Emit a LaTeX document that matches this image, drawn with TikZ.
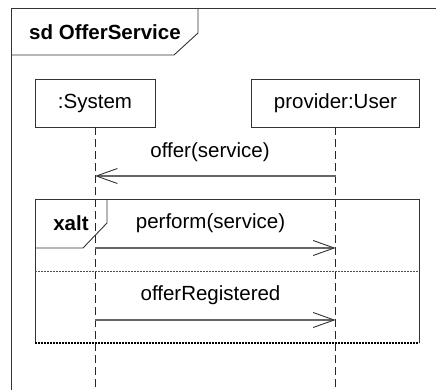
\documentclass[tikz,border=0pt]{standalone}
\usepackage{fontspec}
\setmainfont{Liberation Sans}
\usetikzlibrary{arrows.meta}
\tikzset{
  line/.style={draw=black!80, line width=0.9pt},
  participant/.style={line, fill=white, minimum height=48pt, inner sep=0pt,
    font=\fontsize{20.5}{24}\selectfont},
  lifeline/.style={draw=black!85, line width=0.9pt, dash pattern=on 8pt off 4pt},
  msg/.style={draw=black!60, line width=1.3pt,
    -{Straight Barb[length=21pt, width=15pt, line width=0.9pt, black!80]}},
  msglabel/.style={font=\fontsize{20.5}{24}\selectfont, inner sep=0pt},
  framelabel/.style={font=\fontsize{20.5}{24}\selectfont\bfseries, inner sep=0pt},
  separator/.style={draw=black!70, line width=0.8pt, dash pattern=on 2pt off 1pt},
  closing/.style={draw=black, line width=1.6pt, dash pattern=on 2pt off 1pt},
}
\begin{document}
\begin{tikzpicture}[x=1pt, y=-1pt]
  \useasboundingbox (0,0) rectangle (436,390);

  % sequence diagram frame and its name tab
  \draw[line] (11.5,395) -- (11.5,8) -- (440,8);
  \draw[line] (11.5,55) -- (174,55) -- (198,33) -- (198,8);
  \node[framelabel] (sdname) at (105,32) {sd OfferService};

  % participants and lifelines
  \node[participant, minimum width=120pt] (sys) at (95,103) {:System};
  \node[participant, minimum width=168pt] (prov) at (335.5,103) {provider:User};
  \coordinate (sysend) at (95,392);
  \coordinate (provend) at (335.5,392);
  \draw[lifeline] (sys.south) -- (sysend);
  \draw[lifeline] (prov.south) -- (provend);

  % first message
  \coordinate (m1s) at (335.5,176);
  \coordinate (m1e) at (95,176);
  \draw[msg] (m1s) -- (m1e);
  \node[msglabel] (l1) at (210,152) {offer(service)};

  % xalt combined fragment
  \coordinate (fa) at (35,199);
  \coordinate (fb) at (419,343);
  \draw[line] (fa |- fb) -- (fa) -- (fb |- fa) -- (fb);
  \draw[closing] (fa |- fb) -- (fb);
  \draw[line] (35,248) -- (83,248) -- (107,223) -- (107,199);
  \node[framelabel] (alt) at (71,223) {xalt};
  \draw[separator] (35,271) -- (419,271);

  % messages inside the fragment
  \coordinate (m2s) at (95,248);
  \coordinate (m2e) at (335.5,248);
  \draw[msg] (m2s) -- (m2e);
  \node[msglabel] (l2) at (210.5,223) {perform(service)};

  \coordinate (m3s) at (95,320);
  \coordinate (m3e) at (335.5,320);
  \draw[msg] (m3s) -- (m3e);
  \node[msglabel] (l3) at (210.5,295) {offerRegistered};
\end{tikzpicture}
\end{document}
